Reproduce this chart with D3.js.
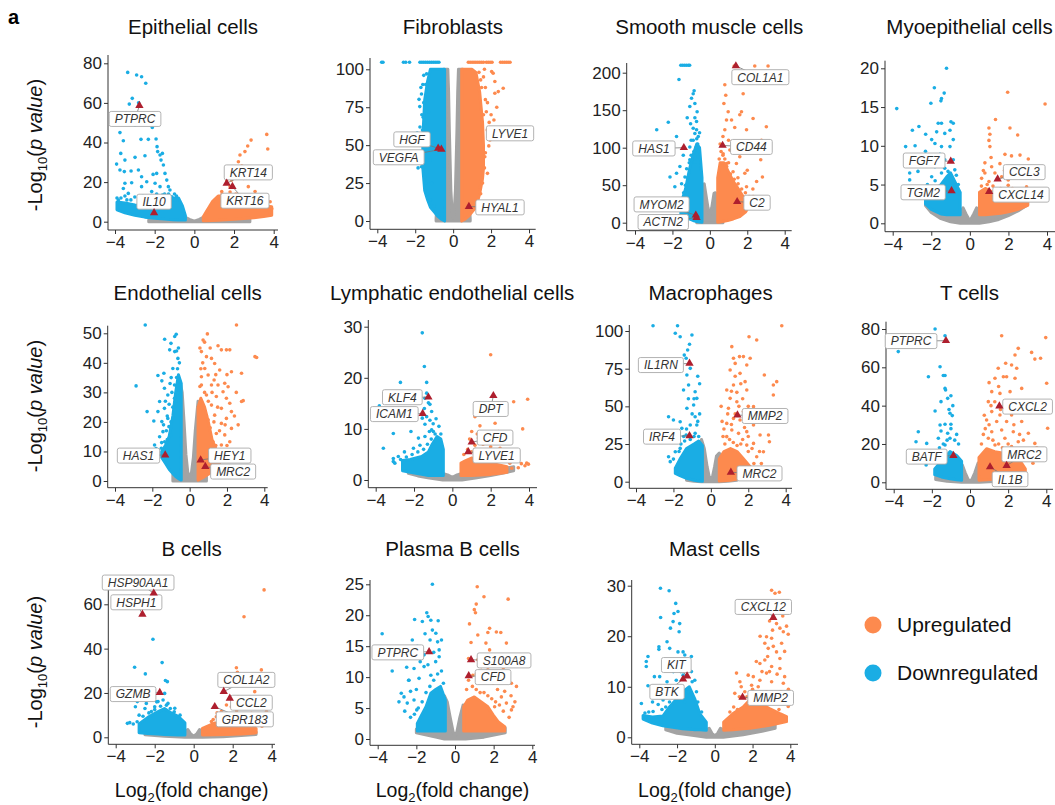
<!DOCTYPE html>
<html>
<head>
<meta charset="utf-8">
<script src="https://cdn.jsdelivr.net/npm/d3@7"></script>
<style>
  body { margin: 0; background: #fff; font-family: "Liberation Sans", Arial, sans-serif; }
</style>
</head>
<body>
<svg id="chart" width="1055" height="805"></svg>
<script>
// ---- data: bands are [log2FC, low, high] outlines of the dense clouds, points are [log2FC, -log10 p]
// genes are [name, log2FC, -log10 p]; labelAt = label centres in data units

// Epithelial cells
var epiGray = [[-2.3,0,0.8],[-1,0,1.5],[-0.5,0,2.5],[-0.25,0,1.2],[0,0,0.3],[0.25,0,1.2],[0.5,0,2.5],[1.5,0,1.5],[2.8,0,1.2]];
var epiDownBand = [[-3.9,6,10],[-3.5,4.5,9.5],[-3,3.2,8.5],[-2.5,2.3,8],[-2,1.8,8.5],[-1.5,1.3,10],[-1.1,1,12],[-0.8,0.8,12],[-0.6,0.8,8],[-0.45,0.8,3]];
var epiUpBand = [[0.45,0.5,2.5],[0.6,0.5,5],[0.9,0.6,10],[1.2,0.7,13],[1.6,1,13],[2,1.2,12],[2.5,1.6,10],[3,2,8],[3.5,2.6,8],[3.9,3.2,7.5]];
var epiDown = [[-3.36,75.4],[-2.91,74.1],[-2.66,73.2],[-2.45,69.9],[-3.13,62.3],[-3.28,59.4],[-2.81,60.1],[-2.12,47.6],[-2.99,48.8],[-3.75,45],[-3.58,40.9],[-2.69,41.6],[-2.32,41.6],[-1.93,41.8],[-1.88,37.9],[-3.71,34.5],[-3.5,31.1],[-2.99,32.5],[-2.49,33.3],[-1.85,35.4],[-1.73,33.7],[-1.61,34.5],[-3.92,29.1],[-3.75,26.1],[-3.53,25.3],[-3.19,25.6],[-2.82,26.1],[-2.66,22.7],[-2.4,20.2],[-2.08,23.9],[-1.9,24.4],[-1.68,31.1],[-1.56,28.6],[-1.48,24.4],[-1.39,21],[-1.31,17.7],[-1.23,16],[-3.5,19.4],[-3.16,19.7],[-3.58,16.8],[-2.66,17.7],[-1.98,19.4],[-1.73,17.7],[-1.14,12.6],[-0.97,10.9],[-1.61,13.5],[-2.15,15.2],[-3.33,14.3],[-3.83,10.9],
  [-3.7,12],[-3.5,13],[-3.2,11],[-3,12.5],[-2.8,10.5],[-2.6,13],[-2.3,11],[-2.1,12],[-1.9,14],[-1.7,12],[-1.5,14],[-1.3,14],[-1,14],[-0.9,13],[-3.9,12],[-3.4,11]];
var epiUp = [[3.65,44.1],[2.86,41.2],[2.69,38.2],[3.7,36.7],[2.3,33.7],[2.55,35.4],[2.22,30.3],[2.39,28.1],[2.22,26.1],[2.05,23.6],[1.88,21],[2.47,21.9],[2.72,17.7],[1.63,21],[1.8,17.7],[3.06,15.2],[3.39,12.6],[3.82,10.1],[1.38,15.2],[3.65,7.6],
  [3,9],[3.3,9.5],[3.6,9],[2.8,11],[2.4,13],[2.1,14],[1.8,15],[1.4,14],[3.8,5],[3.9,6.5],[3.6,6],[3.2,10.5],[2.6,12]];
var epiGenes = [["PTPRC",-2.77,58.6],["IL10",-2.03,4.5],["KRT14",1.63,19.4],["KRT16",1.92,17.7]];
var epiLabelAt = [[-2.99,51.9],[-2.03,10.1],[2.72,24.9],[2.55,10.6]];

// Fibroblasts
var fibGray = [[-0.9,0,1.5],[-0.5,0,100],[-0.28,0,100],[-0.24,0,85],[-0.2,0,60],[-0.16,0,40],[-0.12,0,20],[-0.05,0,5],[0,0,2],[0.05,0,5],[0.12,0,20],[0.16,0,40],[0.2,0,60],[0.24,0,85],[0.28,0,100],[0.5,0,100],[0.9,0,1.5]];
var fibDownBand = [[-1.6,35,55],[-1.5,20,80],[-1.35,14,92],[-1.2,9,100],[-1,6,100],[-0.8,3,100],[-0.6,1,100],[-0.45,0,100]];
var fibUpBand = [[0.45,0,100],[0.6,1,100],[0.8,3,100],[1,6,100],[1.2,9,98],[1.4,18,85],[1.55,28,65],[1.6,35,50]];
var fibDown = [[-3.77,104.6],[-3.7,104.6],[-2.62,104.6],[-2.5,104.6],[-2.3,104.6],[-1.75,104.6],[-1.65,104.6],[-1.55,104.6],[-1.45,104.6],[-1.35,104.6],[-1.25,104.6],[-1.15,104.6],[-1.05,104.6],[-0.95,104.6],[-0.85,104.6],[-0.75,104.6],[-1.67,83.7],[-1.8,80.2],[-1.76,75.4],[-1.58,68.4],[-1.5,64.4],[-1.71,55.6],[-1.5,44.6],[-1.23,40.2],[-1.67,35.8],[-1.5,29.2],[-1.14,24.8],[-1.4,97],[-1.45,90],[-1.62,60],[-1.3,72],[-1.55,50],
  [-1.6,90],[-1.7,88],[-1.55,78],[-1.65,70],[-1.75,62],[-1.8,50],[-1.65,45],[-1.6,38],[-1.45,25],[-1.35,18],[-1.2,14],[-1,10],[-1.85,35],[-1.9,58],[-1.55,96]];
var fibUp = [[0.8,104.6],[0.9,104.6],[1,104.6],[1.1,104.6],[1.2,104.6],[1.3,104.6],[1.4,104.6],[1.5,104.6],[1.6,104.6],[1.75,104.6],[1.85,104.6],[1.95,104.6],[2.05,104.6],[2.5,104.6],[2.6,104.6],[2.7,104.6],[2.8,104.6],[2.9,104.6],[3,104.6],[1.36,98],[2.03,98.5],[2.11,97.4],[2.64,87.5],[2.2,84.2],[2.38,85.3],[1.81,78],[2.15,66.6],[1.85,60],[1.88,49.5],[1.67,42.4],[1.94,53.4],[1.5,27],[1.41,22.6],[1.81,31.4],[1.6,70],[1.7,88],[1.45,93],
  [1.6,95],[1.7,80],[1.75,72],[1.8,60],[1.7,45],[1.65,35],[1.55,25],[1.45,18],[1.3,13],[1.1,10],[2,70],[1.9,65],[2.3,75],[2.2,92],[1.65,100],[1.5,88]];
var fibGenes = [["HGF",-0.79,47.9],["VEGFA",-0.62,47.3],["LYVE1",null,null],["HYAL1",0.83,9.5]];
var fibLabelAt = [[-2.17,53.8],[-2.87,42],[3.0,57.8],[2.47,9]];

// Smooth muscle cells
var smcGray = [[-0.7,0,3],[-0.45,0,45],[-0.3,0,52],[-0.22,0,39],[-0.1,0,20],[0,0,10],[0.1,0,20],[0.22,0,39],[0.3,0,40],[0.45,0,35],[0.7,0,3]];
var smcDownBand = [[-1.55,12,25],[-1.3,8,45],[-1.1,5,70],[-0.9,3,90],[-0.7,1.5,105],[-0.55,1,100],[-0.42,0.5,60]];
var smcUpBand = [[0.42,0.5,60],[0.55,1,80],[0.75,2,80],[0.95,3,70],[1.25,5,55],[1.6,8,42],[1.9,14,30],[2,18,22]];
var smcDown = [[-1.55,210],[-1.45,210],[-1.35,210],[-1.25,210],[-1.15,210],[-1.08,210],[-1.65,191],[-0.84,176],[-0.89,172],[-0.98,166],[-0.8,159],[-1.07,155],[-0.68,148],[-1.21,140],[-0.8,140],[-0.71,135],[-1.03,132],[-2.22,134],[-2.84,124],[-0.89,126],[-0.71,124],[-0.8,119],[-0.62,115],[-1.78,115],[-0.89,110],[-1.07,101],[-0.71,97],[-1.42,90],[-2.13,61],[-1.78,66],[-1.6,75],[-1.24,72],[-1.87,48],[-1.51,52],[-1.33,61],[-1.07,84],[-0.8,81],[-0.62,88],
  [-0.6,95],[-0.65,105],[-0.75,100],[-0.85,95],[-1,90],[-1.1,80],[-1.2,60],[-1.3,50],[-1.4,40],[-1.6,30],[-1.8,28],[-1,110],[-0.55,120],[-0.7,112]];
var smcUp = [[1.3,209],[2.4,209],[3.11,209],[1.78,172],[0.8,184],[0.85,170],[0.75,159],[1.69,148],[1.6,144],[2.31,139],[0.98,148],[0.89,137],[0.8,124],[1.16,137],[1.33,127],[1.96,124],[3.02,128],[2.76,110],[2.04,108],[2.72,84],[2.81,61],[1.87,66],[1.42,79],[1.07,97],[0.71,92],[0.89,79],[1.24,68],[1.6,88],[1.51,52],[1.96,48],[2.31,35],
  [0.5,85],[0.6,95],[0.7,90],[0.8,85],[0.9,75],[1,80],[1.1,65],[1.3,58],[1.5,60],[1.7,45],[1.9,40],[2.1,35],[2.3,45],[2.5,55],[2,70],[0.55,105],[0.7,115],[1,110],[1.2,95],[1.4,105]];
var smcGenes = [["HAS1",-1.39,100],["CD44",0.68,103],["COL1A1",1.39,209],["C2",1.46,28],["MYOM2",-0.75,10],["ACTN2",-0.71,6.7]];
var smcLabelAt = [[-2.99,99],[2.22,101],[2.7,194],[2.52,26.7],[-2.58,24.4],[-2.49,0.9]];

// Myoepithelial cells
var myoGray = [[-2.3,2.3,2.8],[-2,1.4,2.6],[-1.5,0.6,2],[-1,0.2,1.5],[-0.5,0,1.3],[-0.35,0,2],[-0.2,0,1.2],[0,0,0.3],[0.2,0,1.2],[0.35,0,2],[0.5,0,1.3],[1,0.2,1.4],[1.5,0.5,1.7],[2,1,2.2],[2.5,1.6,2.8],[3,2.4,3.3]];
var myoDownBand = [[-2.3,2.5,3],[-2,1.8,4],[-1.5,1.2,5],[-1.2,1.1,6],[-1,1.1,6.5],[-0.7,1.1,5],[-0.5,1.1,4]];
var myoUpBand = [[0.5,1.1,4],[0.8,1.1,4.5],[1.2,1.2,4],[1.6,1.3,3.7],[2,1.5,3.2],[2.5,1.8,2.8],[3,2.3,2.8]];
var myoDown = [[-1.21,20],[-1.84,17.5],[-1.33,16.8],[-1.47,16.1],[-2.02,15.5],[-3.79,14.8],[-1.5,15.8],[-1.64,12.9],[-1.47,12.9],[-0.98,13.1],[-0.86,12.9],[-2.64,12.5],[-2.98,12],[-2.29,11.5],[-1.98,10.8],[-1.72,11.8],[-1.3,11.6],[-1.03,12],[-3.33,9.9],[-2.84,10],[-1.81,10.3],[-1.47,9.9],[-1.03,9.9],[-0.86,10.8],[-3.03,8.8],[-2.51,8.2],[-2.16,7.7],[-1.81,7.3],[-1.3,8.2],[-0.86,8.2],[-3.12,6.5],[-2.69,6.7],[-3.12,5.6],[-1.98,6],[-1.47,6.5],[-1.13,6.7],[-0.78,6.9],
  [-0.6,5],[-0.7,6.2],[-1.8,5.5],[-2.2,5],[-2.5,4.5],[-1.3,7.1],[-1.55,8.9],[-2.3,9.3]];
var myoUp = [[1.96,16.9],[3.9,15.4],[1.33,13.4],[0.99,12.3],[2.08,12.3],[1.04,11.5],[2.48,11.4],[0.99,10.7],[1.04,9.9],[1.82,8.9],[2.16,8.7],[2.6,8.8],[3.03,8.3],[1.56,7.7],[0.78,7.8],[1.13,7.3],[0.78,6.5],[1.3,6.5],[1.65,6],[1.99,5.6],[1.99,4.9],[2.94,4.7],[3.55,4.3],[0.61,5.8],[0.99,5.4],
  [0.6,4.8],[0.9,5],[1.2,4.8],[1.6,4.5],[2.2,4.5],[2.5,3.8],[3.1,3.5],[0.7,6.8],[1.1,8.5],[1.8,6.8]];
var myoGenes = [["FGF7",-0.99,8],["TGM2",-0.95,4.2],["CCL3",1.44,5.7],["CXCL14",1.0,4.1]];
var myoLabelAt = [[-2.37,8.1],[-2.42,4],[2.82,6.6],[2.65,3.7]];

// Endothelial cells
var endGray = [[-0.9,0,2],[-0.5,0,33],[-0.4,0,30],[-0.3,0,20],[-0.2,0,9],[-0.1,0,3],[0,0,1],[0.1,0,3],[0.2,0,8],[0.3,0,17],[0.45,0,27],[0.9,0,2]];
var endDownBand = [[-1.5,8,10],[-1.3,6,12],[-1.1,4,15],[-0.9,2.5,22],[-0.75,1.5,30],[-0.6,0.8,36],[-0.45,0.3,33]];
var endUpBand = [[0.45,0.3,25],[0.6,0.8,28],[0.8,1.5,25],[1,2.3,20],[1.2,3.2,14],[1.4,4.5,11],[1.6,6,9]];
var endDown = [[-2.38,52.8],[-1.34,48],[-0.8,48.9],[-0.72,49.7],[-1,46.6],[-1.07,44.4],[-0.8,43.8],[-0.63,41.5],[-1.7,35.7],[-1.38,36.5],[-0.9,38.1],[-1.49,33.9],[-0.99,35],[-2.87,32.2],[-1.35,31.4],[-0.81,32.5],[-1.17,29.1],[-1.61,26.9],[-0.81,28],[-2.28,23.5],[-1.7,23.5],[-1.35,24.6],[-1.92,20.3],[-1.49,20.1],[-1.17,21.2],[-1.43,16.7],[-1.11,18.4],[-1.61,15],[-1.34,13.3],[-0.99,15.6],[-1.88,12.2],[-1.52,11.1],[-1.7,8.8],
  [-0.6,45],[-0.65,38],[-0.7,35],[-0.6,30],[-0.95,30],[-1.1,26],[-0.9,25],[-1.2,22],[-1.4,19],[-1,20],[-1.25,17],[-1.5,13],[-1.8,11],[-2,9],[-1.2,14],[-0.7,44],[-0.55,40],[-0.75,27],[-1.05,33],[-1.3,27]];
var endUp = [[2.51,52.8],[0.95,49.8],[0.72,47.7],[1.52,45.8],[1.7,44.4],[1.97,44.4],[2.15,44.4],[3.5,42.1],[3.59,41.8],[0.63,43.8],[0.9,42.1],[1.17,41.5],[1.34,39.8],[0.81,38.1],[1.61,37.6],[2.24,37],[0.99,35.9],[0.63,35.3],[1.31,34.2],[1.88,33.1],[0.63,32.5],[1.17,32.5],[1.52,32.5],[2.06,31.9],[1.79,30.2],[2.78,36.5],[2.87,27.2],[2.78,26.9],[0.9,29.1],[1.43,28.6],[1.97,28],[2.15,26.3],[1.17,25.7],[1.7,24.6],[2.24,23.5],[0.72,23.5],[1.34,22.3],[1.97,21.2],[0.99,20.7],[1.7,19.5],[2.24,17.8],[1.43,16.1],[1.88,15.6],[1.25,13.3],[1.7,12.2],[2.15,13.3],[1.52,9.9],
  [0.55,45],[0.7,40],[0.6,38],[0.55,32],[0.8,30],[1,27],[1.2,30],[1.5,25],[1.3,20],[1.1,18],[1.6,17],[1.9,19],[2,12],[1.8,10],[1.4,12],[0.9,22],[2.4,22],[2.6,19],[2.5,30],[2,36],[1.4,36],[1.1,45],[0.8,47]];
var endGenes = [["HAS1",-1.31,8.8],["HEY1",0.59,7.1],["MRC2",0.84,4.9]];
var endLabelAt = [[-2.74,8.6],[2.15,8.6],[2.33,3.2]];

// Lymphatic endothelial cells
var lymGray = [[-2.3,1.3,2],[-1.8,0.8,1.6],[-1.2,0.4,1.4],[-0.5,0,1.3],[-0.25,0,1],[0,0,0.5],[0.25,0,1],[0.5,0,1.3],[1.2,0.4,1.4],[2,0.9,1.8],[2.6,1.3,2.2],[3.2,1.8,2.6]];
var lymDownBand = [[-2.6,1.8,3.8],[-2.2,1.5,4],[-1.6,1.1,4.6],[-1.25,0.9,5.5],[-1.05,0.9,7],[-0.8,0.9,8.5],[-0.6,0.9,8],[-0.47,0.9,6]];
var lymUpBand = [[0.45,0.9,3.3],[0.7,0.9,3.8],[1,0.9,4.3],[1.5,1,3.7],[2,1.1,3.3],[2.5,1.3,2.9],[2.85,1.5,2.6]];
var lymDown = [[-1.57,28.8],[-1.46,22.2],[-1.34,19.1],[-2.71,19.1],[-3.81,14.5],[-1.34,17],[-1.43,16],[-1.25,15.1],[-1.17,14.8],[-1.46,14],[-1.08,13.4],[-1.57,12.1],[-1.34,12.4],[-1.17,11.7],[-1.43,10.9],[-1.08,9.8],[-0.99,9.5],[-3.08,9.1],[-3.6,6.2],[-2.16,9.5],[-1.77,8.2],[-1.43,8.5],[-2.5,5.5],[-2.03,6.2],[-1.69,6.8],[-3.08,4.2],[-3.08,3.6],[-2.82,4.6],
  [-0.6,9],[-0.7,10.5],[-0.9,9],[-1.1,8],[-1.3,7],[-1.5,6],[-1.8,5.5],[-2.1,5],[-2.4,4.5],[-2.7,4],[-3,3.3],[-1,11],[-0.85,12],[-1.2,9.5]];
var lymUp = [[2,24.5],[3.2,15.3],[3.93,15.8],[2.66,13],[1.53,13],[1.18,12.4],[1.44,10.6],[2.23,11.1],[1.01,9.5],[2.4,9.5],[3.67,10],[1.36,8.2],[1.88,8.2],[2.75,8.2],[1.18,6.8],[1.7,5.9],[2.49,6.2],[3.1,5.5],[3.27,4.2],[3.88,3.3],[3.44,2.4],[3.79,2.8],[3.97,3.1],[3.1,2.3],
  [0.6,5],[0.8,6],[1,5.5],[1.2,6],[1.5,5],[1.9,4.5],[2.2,4.2],[2.6,3.8],[3,3.3],[0.9,8],[1.3,9],[1.6,7],[2,6.5],[3.4,3.8],[3.6,3.2]];
var lymGenes = [["KLF4",-1.25,16.2],["ICAM1",-1.55,13],["DPT",2.14,16.5],["CFD",1.01,7.4],["LYVE1",0.83,5.5]];
var lymLabelAt = [[-2.61,16.2],[-3.03,12.9],[2.0,13.9],[2.23,8.3],[2.31,4.8]];

// Macrophages
var macGray = [[-1.3,1,2.5],[-0.9,0.3,1.5],[-0.5,0,28],[-0.35,0,22],[-0.2,0,10],[-0.1,0,4],[0,0,1.5],[0.1,0,4],[0.2,0,10],[0.3,0,17],[0.45,0,19],[0.9,0.3,1.5],[1.4,1,2.5]];
var macDownBand = [[-1.9,5.5,9],[-1.65,4,15],[-1.3,2.2,22],[-0.9,1,25],[-0.65,0.5,27],[-0.45,0.3,24]];
var macUpBand = [[0.45,0.4,15],[0.7,0.6,20],[1.05,1,22],[1.4,1.8,20],[1.75,2.6,15],[2.1,3.3,10],[2.45,4.4,6.6]];
var macDown = [[-3.09,103.5],[-1.78,103.5],[-1.9,98.5],[-1.64,96.2],[-1.01,97.3],[-1.14,91.2],[-1.24,87.4],[-1.42,84],[-1.32,81.9],[-1.1,75.2],[-1.28,70.8],[-1.19,64.2],[-1.46,60.8],[-0.84,59.7],[-0.75,55.3],[-0.92,50.9],[-1.28,48.7],[-2.26,43.1],[-2,40.9],[-1.64,39.8],[-0.84,43.1],[-1.1,37.6],[-0.75,37.6],[-1.55,35.4],[-2.13,27.7],[-1.32,31],[-0.84,32.1],[-1.81,26.5],[-1.64,22.1],[-1.9,19.9],[-2.26,16.6],[-2.17,13.3],
  [-0.6,45],[-0.7,40],[-0.65,30],[-0.9,30],[-1.1,28],[-1.4,27],[-1.6,25],[-1.3,35],[-1,45],[-0.6,65],[-0.7,70],[-1.2,55],[-1.45,30],[-1.7,20],[-2,15],[-0.9,55]];
var macUp = [[3.79,103.5],[2.04,96.2],[2.45,94],[1.12,89.6],[1.53,83],[1.74,83],[2.1,81.9],[1.21,81.9],[1.3,78.5],[1.92,77.4],[1.03,74.1],[1.56,71.9],[2.86,70.8],[3.52,66.4],[3.34,64.2],[1.83,66.4],[1.21,64.2],[0.85,60.8],[1.39,59.3],[1.92,60.8],[3.34,57.5],[1.03,55.3],[1.39,53.1],[2.28,49.8],[0.94,48.7],[1.74,46.5],[1.21,42],[1.56,40.9],[2.1,42],[0.85,38.7],[2.28,37.6],[2.63,31],[1.12,34.3],[1.48,32.1],[1.92,33.2],[0.85,29.9],[2.28,25.4],[3.13,26.5],[3.08,31],[1.92,24.3],[2.81,19.9],[2.45,16.6],
  [0.55,50],[0.6,40],[0.65,30],[0.75,25],[1,28],[1.2,26],[1.4,24],[1.6,25],[1.7,28],[1.3,45],[1.5,50],[1.7,55],[2,50],[2.2,45],[2.4,40],[1.8,36],[2,30],[2.2,22],[2.6,20],[1.1,60],[1.6,65],[1.3,70],[2,20],[2.3,12],[2.7,12],[0.7,35],[0.9,45],[1.1,38]];
var macGenes = [["IL1RN",-1.14,78.5],["IRF4",-1.14,30.5],["MMP2",1.42,44.2],["MRC2",1.07,6.2]];
var macLabelAt = [[-2.67,77.4],[-2.61,29.9],[2.9,43.6],[2.6,5.5]];

// T cells
var tGray = [[-1.8,1.5,3],[-1.2,0.5,2],[-0.45,0,1.5],[-0.4,0,9],[-0.25,0,5],[-0.1,0,1.5],[0,0,0.5],[0.1,0,1.5],[0.25,0,5],[0.42,0,10],[0.5,0,1.5],[1.5,0.5,2],[2.6,1.5,3.5]];
var tDownBand = [[-1.85,4,7],[-1.5,2.8,11],[-1.05,1.8,16],[-0.7,1.3,14],[-0.44,1.1,11]];
var tUpBand = [[0.47,1.1,13],[0.87,1.3,17.5],[1.3,1.6,16],[1.83,2,15],[2.35,2.8,12.5],[2.7,3.8,10],[2.9,4.7,7]];
var tDown = [[-1.83,80],[-1.31,76.5],[-3.76,68.2],[-1.57,60.3],[-2.18,55.1],[-1.4,55.7],[-1.31,55.7],[-1.31,49],[-1.28,48.2],[-1.52,42.1],[-1.17,43.8],[-1,45.2],[-1.83,37.2],[-1.05,36],[-0.93,34.8],[-1.57,29.9],[-1.31,30.3],[-1,30.3],[-2.71,26.4],[-1.52,26.8],[-1.17,25.6],[-2.83,21.2],[-1.66,23],[-1.05,23],[-2.27,20.3],[-1.31,19.5],[-1.92,16],[-1.48,15.1],
  [-0.6,20],[-0.7,25],[-0.8,22],[-1.2,22],[-1.4,20],[-1.6,18],[-1,28],[-0.9,40],[-1.1,38],[-1.7,13],[-2,12],[-2.3,9]];
var tUp = [[1.66,76.5],[3.97,75.5],[2.53,69.9],[3.23,67.8],[3.7,64.7],[3.4,64.3],[2.36,66.4],[1.87,62.1],[2.18,61.2],[2.45,59.5],[1.48,59.5],[1.75,55.1],[1.92,55.1],[2.36,54.3],[1.31,54.3],[2.71,49],[4.02,51.7],[1.14,47.3],[1.57,46.4],[2.1,47.3],[0.96,42.1],[1.83,42.1],[2.45,40.3],[3.06,36.9],[1.14,36.9],[1.57,35.1],[2.18,35.1],[0.87,32.5],[1.4,31.7],[1.92,31.7],[2.71,31.7],[4.07,28.2],[1.14,26.4],[1.66,27.3],[2.27,26.4],[3.06,25.6],[0.96,23],[1.83,23],[2.53,21.2],[3.4,20.3],[1.31,19.5],[2.18,18.6],
  [0.6,20],[0.7,25],[0.8,28],[1,30],[1.2,22],[1.5,20],[1.7,18],[2,20],[2.3,16],[2.6,15],[2.9,14],[3.1,12],[3.3,10],[1.1,40],[1.3,42],[1.6,38],[2,37],[2.3,30],[2.6,25],[0.75,35],[1,52],[1.5,50],[3.5,18],[2.8,22]];
var tGenes = [["PTPRC",-1.26,73.9],["CXCL2",1.54,39.8],["BATF",-0.87,13.9],["MRC2",1.92,8.7],["IL1B",1.05,8]];
var tLabelAt = [[-3.09,73.7],[3.02,39.5],[-2.27,13.4],[2.85,14.6],[2.1,1.6]];

// B cells
var bGray = [[-2.5,1.2,2],[-1.5,0.5,1.5],[-0.46,0,2.5],[-0.3,0,3.5],[-0.15,0,1.5],[0,0,0.5],[0.15,0,1.5],[0.3,0,3.5],[0.46,0,2.5],[1.5,0.3,1.5],[3.2,1.3,2.3]];
var bDownBand = [[-2.8,2,6],[-2.35,1.7,9],[-1.85,1.5,11.5],[-1.5,1.3,13],[-1.15,1.1,11],[-0.8,1,9.5],[-0.45,1,6.5]];
var bUpBand = [[0.45,1,4],[1.1,1.1,6.5],[1.75,1.3,5.5],[2.45,1.5,4.5],[3.2,2,4]];
var bDown = [[-2.09,44.2],[-3.03,31.6],[-1.62,33.7],[-2.48,28.6],[-1.45,25.6],[-1.35,25.1],[-1.49,19.8],[-2.99,13.8],[-2.89,16.1],[-3.28,6.6],[-3.4,6.3],[-2.43,15.3],[-2,13.8],[-1.57,16.8],[-1.32,15.3],[-0.97,13.1],[-1.83,16.1],[-2.17,11.6],
  [-2.9,7],[-3.1,6],[-2.6,9.5],[-2.3,11],[-2,12.5],[-1.7,14],[-1.4,14.5],[-1.2,13],[-1,11.5],[-0.7,10],[-2.8,10],[-2.5,13],[-1.9,16]];
var bUp = [[3.61,66.5],[2.58,54.4],[2.19,31.4],[2.24,29.3],[3.47,30.4],[2.62,26.6],[3.13,20.6],[2.27,18.3],[2.44,15.3],[3.73,11.6],[1.68,14.6],[1.93,13.8],[1.16,9.3],[1.42,11.6],[2.96,10.8],[0.91,7.1],
  [1,8],[1.3,9],[1.6,8],[2,7],[2.4,6],[2.8,5.5],[3.1,5],[3.5,5],[3.8,7],[1.2,11],[1.9,10],[2.2,12]];
var bGenes = [["HSP90AA1",-2.05,65],["HSPH1",-2.63,55.5],["GZMB",-1.74,20.2],["COL1A2",1.54,20.6],["CCL2",1.85,17.6],["GPR183",1.08,13.8]];
var bLabelAt = [[-2.85,69.8],[-2.94,60.9],[-3.11,19.5],[2.7,25.9],[2.96,15.6],[2.62,8.1]];

// Plasma B cells
var pbGray = [[-2,1,1.6],[-1,0.3,1.5],[-0.55,0,7],[-0.4,0,6],[-0.25,0,3.5],[-0.1,0,1.2],[0,0,0.4],[0.1,0,1.2],[0.25,0,3.5],[0.42,0,5.5],[0.55,0,2],[1.5,0.3,1.5],[2.6,1,1.8]];
var pbDownBand = [[-1.95,1.3,2.5],[-1.77,1.3,3.6],[-1.5,1.3,5.2],[-1.25,1.3,7.4],[-1,1.3,8],[-0.75,1.3,8.5],[-0.5,1.3,6.3]];
var pbUpBand = [[0.45,1.3,5.2],[0.66,1.3,6.3],[1,1.3,6.8],[1.36,1.3,6],[1.7,1.3,5.2],[1.97,1.3,3.9],[2.23,1.3,2.8],[2.57,1.3,2]];
var pbDown = [[-1.17,25],[-1.46,20.4],[-2.09,19.3],[-1.69,19],[-1.39,19.8],[-1.25,19.2],[-0.87,19.1],[-1.17,17.6],[-3.77,17],[-0.99,17.1],[-1.29,16],[-0.9,15.7],[-2.21,16],[-1.95,15],[-0.82,14.4],[-1.6,13.6],[-0.82,13.3],[-2.5,11.6],[-2.12,11.4],[-3.25,11],[-1.6,11.7],[-1.25,10.3],[-2.38,9.5],[-1.86,9.8],[-2.78,7.4],[-2.64,6.8],[-2.3,7.7],[-2.47,5.8],[-2.12,6.3],[-1.98,4.7],
  [-0.6,9],[-0.7,11],[-0.9,10.5],[-1.1,9.5],[-1.3,8.5],[-1.5,7.5],[-1.7,6],[-1.9,5],[-2.1,4],[-2.3,3.5],[-2.6,4.5],[-1,12.5],[-1.4,12],[-1.8,12.5],[-0.7,16],[-1.1,14],[-1.55,17],[-2,8],[-2.4,9.5],[-2.9,6]];
var pbUp = [[1.15,24.6],[1.5,23],[2.75,22.6],[1.1,21.8],[1,20.9],[1.06,20.4],[0.75,18.6],[1.79,17.9],[2.14,17.3],[2.37,17.2],[1.7,17.2],[1.18,16.8],[2.66,15.5],[0.83,15.6],[1.79,14.4],[2.31,12.8],[1.18,12.8],[1.36,11.7],[1.7,11.2],[2.23,10.6],[2.66,10.3],[0.92,10.3],[1.53,9.5],[1.97,9],[2.92,9],[3.18,8.5],[2.57,7.7],[2.4,6.8],[2.92,4.7],[2.66,5.8],[2.05,5.2],
  [0.6,8],[0.7,9.5],[0.9,8.5],[1.1,8],[1.3,7.5],[1.5,7.5],[1.7,7],[1.9,6.5],[2.1,6],[2.3,5.5],[2.5,4.5],[2.8,3.5],[3,5.2],[1.1,10.5],[1.4,13.5],[1.9,12],[2.5,11.5],[0.7,13],[1.6,15.5],[2.2,8],[2.9,7],[3.1,6]];
var pbGenes = [["PTPRC",-1.34,14.1],["S100A8",0.83,12.8],["CFD",0.71,10.2]];
var pbLabelAt = [[-2.96,14],[2.54,12.7],[1.97,10]];

// Mast cells
var mastGray = [[-2.6,1.5,2.2],[-2,0.8,1.8],[-1.2,0.4,1.5],[-0.45,0,1.5],[-0.3,0,1.8],[-0.15,0,0.8],[0,0,0.3],[0.15,0,0.8],[0.3,0,1.8],[0.45,0,1.5],[1.5,0.5,1.5],[2.5,1.2,2.2],[3.2,1.8,2.6]];
var mastDownBand = [[-3.8,3.6,4.3],[-3.3,2.8,4],[-2.75,2.3,4.2],[-2.4,2.1,6],[-2.05,1.9,7.5],[-1.7,1.7,9],[-1.35,1.6,10],[-1.05,1.5,7.5],[-0.8,1.5,4.7],[-0.45,1.4,3]];
var mastUpBand = [[0.47,1.4,3],[0.97,1.5,4.7],[1.5,1.7,6],[1.85,1.8,7.4],[2.4,2.1,6.7],[2.9,2.4,5.7],[3.45,2.8,4.7],[3.8,3.1,4.1]];
var mastDown = [[-2.88,29.5],[-2.42,29],[-2.07,26.5],[-2.16,24.5],[-1.95,24.9],[-2.87,23.7],[-2.21,22.9],[-1.86,22.5],[-2.35,21.6],[-1.89,20.9],[-2.53,18.9],[-2.39,17.6],[-2.96,17.9],[-2.96,17.4],[-3.54,16],[-3.63,15],[-3.63,14],[-1.95,16.9],[-1.68,16.9],[-1.59,16.3],[-1.24,16],[-2.92,12],[-3.54,10.2],[-2.53,11],[-2.04,11.3],[-1.68,12.3],[-1.24,13],[-1.06,11.3],[-3.89,6.7],[-3.27,5.1],[-2.74,7.4],[-2.3,8],[-1.86,10],[-1.33,8.7],[-0.97,9],
  [-0.7,5],[-0.9,7],[-1.2,11],[-1.4,9],[-1.6,7],[-1.9,8.5],[-2.1,9.5],[-2.4,7],[-2.6,6],[-2.8,5.5],[-3,6.5],[-3.3,7],[-3.5,5],[-1.5,14],[-1.8,13],[-2.2,13],[-2.6,14],[-3.2,12],[-1,6],[-3.7,4.8]];
var mastUp = [[3.01,29.1],[3.19,28.5],[3.42,28.7],[2.21,24.7],[3.27,22.5],[3.45,21.6],[3.06,21.2],[2.74,19.9],[3.63,20.9],[3.89,20.4],[3.01,19.6],[2.65,18.6],[3.54,18.6],[2.83,17.6],[3.27,16.9],[3.45,15.6],[2.65,15.3],[2.39,14.6],[3.01,14],[3.45,13.6],[1.15,12.7],[1.77,12.3],[2.04,12],[2.74,12.7],[1.33,11],[1.95,10.3],[2.39,11.3],[3.01,11],[3.63,10.7],[1.06,8.7],[1.59,9],[2.21,8.7],[2.74,9],[3.8,8.7],[3.45,7.4],[3.89,6.1],
  [1,6],[1.3,8],[1.7,8],[2,9.5],[2.3,10],[2.6,8],[2.9,7.5],[3.2,7],[3.5,9],[3.7,12],[3.3,12.5],[2.9,13],[2.5,13],[2.2,15],[2.8,16],[3.1,18],[3.7,17],[2.4,20],[2.9,23],[3.3,25],[3.6,24],[3.8,22],[2.6,26],[1.4,10],[1.8,6.5],[3.9,9.5],[3.4,5.5],[0.8,5],[1.2,5.5]];
var mastGenes = [["KIT",-1.47,12.1],["BTK",-1.68,11.5],["CXCL12",3.1,23.7],["MMP2",1.47,7.9]];
var mastLabelAt = [[-2.04,14.3],[-2.53,9],[2.57,25.8],[2.96,7.8]];

var xTicks = [-4, -2, 0, 2, 4];
var legendItems = ["Upregulated", "Downregulated"];

// ---- layout (pixels): where -4/+4 and 0/top tick land, and the axis line extents
var panels = [
  {title: "Epithelial cells", xm4: 115, xp4: 273.7, left: 108, right: 278, y0: 221.7, yT: 80, yTpx: 63.3, top: 55, bottom: 230, yTicks: [0,20,40,60,80],
   gray: epiGray, down: epiDownBand, up: epiUpBand, downPts: epiDown, upPts: epiUp, genes: epiGenes, labelAt: epiLabelAt},
  {title: "Fibroblasts", xm4: 377.3, xp4: 529, left: 370, right: 535.7, y0: 221, yT: 100, yTpx: 69.3, top: 58, bottom: 229.3, yTicks: [0,25,50,75,100],
   gray: fibGray, down: fibDownBand, up: fibUpBand, downPts: fibDown, upPts: fibUp, genes: fibGenes, labelAt: fibLabelAt},
  {title: "Smooth muscle cells", xm4: 635, xp4: 784.7, left: 626.7, right: 791.7, y0: 222.7, yT: 200, yTpx: 72.7, top: 63, bottom: 230.7, yTicks: [0,50,100,150,200],
   gray: smcGray, down: smcDownBand, up: smcUpBand, downPts: smcDown, upPts: smcUp, genes: smcGenes, labelAt: smcLabelAt},
  {title: "Myoepithelial cells", xm4: 892.7, xp4: 1047, left: 885, right: 1060, y0: 223.3, yT: 20, yTpx: 68.3, top: 60.7, bottom: 231.7, yTicks: [0,5,10,15,20],
   gray: myoGray, down: myoDownBand, up: myoUpBand, downPts: myoDown, upPts: myoUp, genes: myoGenes, labelAt: myoLabelAt},
  {title: "Endothelial cells", xm4: 115, xp4: 264.3, left: 107.7, right: 267.7, y0: 481, yT: 50, yTpx: 333.3, top: 325.7, bottom: 487.7, yTicks: [0,10,20,30,40,50],
   gray: endGray, down: endDownBand, up: endUpBand, downPts: endDown, upPts: endUp, genes: endGenes, labelAt: endLabelAt},
  {title: "Lymphatic endothelial cells", xm4: 375.7, xp4: 529, left: 368.3, right: 537, y0: 480, yT: 30, yTpx: 326.7, top: 320, bottom: 487.7, yTicks: [0,10,20,30],
   gray: lymGray, down: lymDownBand, up: lymUpBand, downPts: lymDown, upPts: lymUp, genes: lymGenes, labelAt: lymLabelAt},
  {title: "Macrophages", xm4: 636, xp4: 785.7, left: 629.3, right: 792, y0: 481.7, yT: 100, yTpx: 331, top: 325, bottom: 488.3, yTicks: [0,25,50,75,100],
   gray: macGray, down: macDownBand, up: macUpBand, downPts: macDown, upPts: macUp, genes: macGenes, labelAt: macLabelAt},
  {title: "T cells", xm4: 893.7, xp4: 1046.3, left: 886, right: 1053, y0: 482.3, yT: 80, yTpx: 329, top: 321.7, bottom: 489.3, yTicks: [0,20,40,60,80],
   gray: tGray, down: tDownBand, up: tUpBand, downPts: tDown, upPts: tUp, genes: tGenes, labelAt: tLabelAt},
  {title: "B cells", xm4: 115.7, xp4: 271.7, left: 108.3, right: 275, y0: 737.3, yT: 60, yTpx: 604.3, top: 575, bottom: 744.3, yTicks: [0,20,40,60],
   gray: bGray, down: bDownBand, up: bUpBand, downPts: bDown, upPts: bUp, genes: bGenes, labelAt: bLabelAt},
  {title: "Plasma B cells", xm4: 377.7, xp4: 532.3, left: 370, right: 535, y0: 739, yT: 25, yTpx: 584.3, top: 580, bottom: 745.3, yTicks: [0,5,10,15,20,25],
   gray: pbGray, down: pbDownBand, up: pbUpBand, downPts: pbDown, upPts: pbUp, genes: pbGenes, labelAt: pbLabelAt},
  {title: "Mast cells", xm4: 639.3, xp4: 790.3, left: 631.7, right: 798, y0: 737.3, yT: 30, yTpx: 585.7, top: 580, bottom: 744.3, yTicks: [0,10,20,30],
   gray: mastGray, down: mastDownBand, up: mastUpBand, downPts: mastDown, upPts: mastUp, genes: mastGenes, labelAt: mastLabelAt}
];

var BLUE = "#1AADE4", ORANGE = "#FD8A4E", GRAY = "#A3A3A3", DARKRED = "#AE1F2E";
var rowTitleY = [34, 300, 556];
var rowLabelY = [145, 406, 662];

var svg = d3.select("#chart");

svg.append("text").attr("x", 8).attr("y", 24)
  .style("font-size", "20px").style("font-weight", "bold").text("a");

panels.forEach(function (p, i) {
  var row = Math.floor(i / 4);
  var x = d3.scaleLinear().domain([-4, 4]).range([p.xm4, p.xp4]);
  var y = d3.scaleLinear().domain([0, p.yT]).range([p.y0, p.yTpx]);
  var g = svg.append("g");

  // clip the clouds to the panel
  var clipId = "clip" + i;
  svg.append("clipPath").attr("id", clipId).append("rect")
    .attr("x", p.left + 1).attr("y", p.top - 3)
    .attr("width", p.right - p.left).attr("height", p.bottom - p.top + 2);
  var plot = g.append("g").attr("clip-path", "url(#" + clipId + ")");

  var band = d3.area()
    .x(function (d) { return x(d[0]); })
    .y0(function (d) { return y(d[1]); })
    .y1(function (d) { return y(d[2]); });

  [[p.gray, GRAY], [p.down, BLUE], [p.up, ORANGE]].forEach(function (b) {
    plot.append("path").datum(b[0])
      .attr("d", band)
      .attr("fill", b[1]).attr("stroke", b[1])
      .attr("stroke-width", 3).attr("stroke-linejoin", "round");
  });

  plot.selectAll(".dn").data(p.downPts).enter().append("circle")
    .attr("cx", function (d) { return x(d[0]); })
    .attr("cy", function (d) { return y(d[1]); })
    .attr("r", 1.8).attr("fill", BLUE);

  plot.selectAll(".up").data(p.upPts).enter().append("circle")
    .attr("cx", function (d) { return x(d[0]); })
    .attr("cy", function (d) { return y(d[1]); })
    .attr("r", 1.8).attr("fill", ORANGE);

  // axes
  var xAxis = d3.axisBottom(x).tickValues(xTicks).tickSize(4).tickPadding(2);
  var gx = g.append("g").attr("transform", "translate(0," + p.bottom + ")").call(xAxis);
  gx.select(".domain").remove();
  gx.append("line").attr("x1", p.left).attr("x2", p.right).attr("stroke", "#333");

  var yAxis = d3.axisLeft(y).tickValues(p.yTicks).tickSize(4).tickPadding(2);
  var gy = g.append("g").attr("transform", "translate(" + p.left + ",0)").call(yAxis);
  gy.select(".domain").remove();
  gy.append("line").attr("y1", p.top).attr("y2", p.bottom).attr("stroke", "#333");

  [gx, gy].forEach(function (a) {
    a.selectAll(".tick line").attr("stroke", "#333");
    a.selectAll(".tick text").attr("fill", "#222")
      .style("font-size", "17px").style("font-family", "'Liberation Sans', Arial, sans-serif");
  });

  // gene labels
  p.genes.forEach(function (gn, k) {
    var lx = x(p.labelAt[k][0]), ly = y(p.labelAt[k][1]);
    var lab = g.append("g");
    if (gn[1] !== null) {
      lab.append("line")
        .attr("x1", lx).attr("y1", ly)
        .attr("x2", x(gn[1])).attr("y2", y(gn[2]))
        .attr("stroke", "#777").attr("stroke-width", 0.8);
    }
    var box = lab.append("rect");
    var t = lab.append("text")
      .attr("x", lx).attr("y", ly + 4.3)
      .attr("text-anchor", "middle")
      .style("font-size", "12px").style("font-style", "italic")
      .attr("fill", "#333").text(gn[0]);
    var w = t.node().getComputedTextLength() + 11;
    box.attr("x", lx - w / 2).attr("y", ly - 7.5)
      .attr("width", w).attr("height", 15).attr("rx", 2)
      .attr("fill", "#fff").attr("stroke", "#aaa").attr("stroke-width", 0.9);
  });

  p.genes.forEach(function (gn) {
    if (gn[1] === null) return;
    g.append("path")
      .attr("d", d3.symbol(d3.symbolTriangle, 30)())
      .attr("transform", "translate(" + x(gn[1]) + "," + y(gn[2]) + ")")
      .attr("fill", DARKRED);
  });

  // title
  svg.append("text")
    .attr("x", (p.left + Math.min(p.right, p.xp4 + 7)) / 2).attr("y", rowTitleY[row])
    .attr("text-anchor", "middle").style("font-size", "20.5px").attr("fill", "#111")
    .text(p.title);

  // x label on the bottom row
  if (row === 2) {
    var xl = svg.append("text")
      .attr("x", (p.left + p.right) / 2).attr("y", 797)
      .attr("text-anchor", "middle").style("font-size", "19.5px").attr("fill", "#111");
    xl.append("tspan").text("Log");
    xl.append("tspan").attr("dy", 5).style("font-size", "13px").text("2");
    xl.append("tspan").attr("dy", -5).text("(fold change)");
  }
});

// y labels, one per row
rowLabelY.forEach(function (cy) {
  var yl = svg.append("text")
    .attr("transform", "translate(42," + cy + ") rotate(-90)")
    .attr("text-anchor", "middle").style("font-size", "20px").attr("fill", "#111");
  yl.append("tspan").text("-Log");
  yl.append("tspan").attr("dy", 5).style("font-size", "13px").text("10");
  yl.append("tspan").attr("dy", -5).text("(");
  yl.append("tspan").style("font-style", "italic").text("p value");
  yl.append("tspan").text(")");
});

// legend
var legend = svg.append("g");
legendItems.forEach(function (name, k) {
  var cy = 625 + k * 48;
  legend.append("circle").attr("cx", 873).attr("cy", cy).attr("r", 8.5)
    .attr("fill", k === 0 ? ORANGE : BLUE);
  legend.append("text").attr("x", 897).attr("y", cy + 7)
    .style("font-size", "21px").attr("fill", "#111").text(name);
});
</script>
</body>
</html>
